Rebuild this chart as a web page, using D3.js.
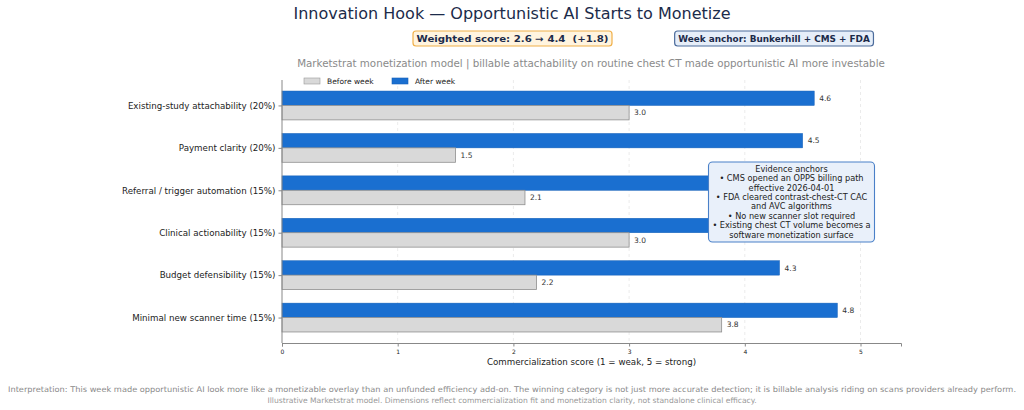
<!DOCTYPE html>
<html><head><meta charset="utf-8">
<script src="https://cdn.jsdelivr.net/npm/d3@7"></script>
<style>body{margin:0;background:#fff}svg{display:block;font-family:"DejaVu Sans",sans-serif}</style>
</head><body><svg id="c" width="1024" height="410"></svg>
<script>
const categories = ["Existing-study attachability (20%)","Payment clarity (20%)","Referral / trigger automation (15%)","Clinical actionability (15%)","Budget defensibility (15%)","Minimal new scanner time (15%)"];
const beforeVals = [3.0,1.5,2.1,3.0,2.2,3.8];
const afterVals = [4.6,4.5,4.2,4.0,4.3,4.8];
const xTicks = [0,1,2,3,4,5];
const seriesNames = ["Before week","After week"];
const evidenceLines = ["Evidence anchors","• CMS opened an OPPS billing path","effective 2026-04-01","• FDA cleared contrast-chest-CT CAC","and AVC algorithms","• No new scanner slot required","• Existing chest CT volume becomes a","software monetization surface"];

const svg = d3.select("#c");
const L=282, R=901, T=80, B=343;
const x = d3.scaleLinear().domain([0,5.35]).range([L,R]);
const y = d3.scaleLinear().domain([-0.6,5.6]).range([T,B]);
const bh = y(0.34)-y(0);
const cBlue="#1a6fd0", cGray="#d9d9d9";

// grid
svg.append("g").selectAll("line").data(xTicks.slice(1)).join("line")
 .attr("x1",d=>x(d)).attr("x2",d=>x(d)).attr("y1",T).attr("y2",B)
 .attr("stroke","#e6e6e6").attr("stroke-width",0.8).attr("stroke-dasharray","3,3");

const g = svg.append("g");
categories.forEach((c,i)=>{
  g.append("rect").attr("x",x(0)).attr("y",y(i)-bh).attr("width",x(afterVals[i])-x(0)).attr("height",bh)
   .attr("fill",cBlue).attr("stroke","#1560b8").attr("stroke-width",0.5);
  g.append("rect").attr("x",x(0)).attr("y",y(i)).attr("width",x(beforeVals[i])-x(0)).attr("height",bh)
   .attr("fill",cGray).attr("stroke","#8f8f8f").attr("stroke-width",0.8);
  g.append("text").attr("x",x(afterVals[i])+5).attr("y",y(i)-bh/2).attr("dy","0.35em")
   .attr("font-size",7.5).attr("fill","#333").text(afterVals[i].toFixed(1));
  g.append("text").attr("x",x(beforeVals[i])+5).attr("y",y(i)+bh/2).attr("dy","0.35em")
   .attr("font-size",7.5).attr("fill","#333").text(beforeVals[i].toFixed(1));
});

// axes
const yAxis = svg.append("g").attr("transform",`translate(${L},0)`)
 .call(d3.axisLeft(y).tickValues(d3.range(categories.length)).tickFormat(i=>categories[i]).tickSize(3.5).tickPadding(3));
yAxis.select(".domain").attr("d",`M0,${T}V${B}`);
yAxis.selectAll("text").attr("font-size",8.7).attr("fill","#222").attr("font-family","DejaVu Sans");
const xAxis = svg.append("g").attr("transform",`translate(0,${B})`)
 .call(d3.axisBottom(x).tickValues(xTicks).tickFormat(d3.format("d")).tickSize(3.5).tickPadding(3));
xAxis.selectAll("text").attr("font-size",6).attr("fill","#222").attr("font-family","DejaVu Sans");
svg.selectAll(".domain").attr("stroke","#888");
svg.selectAll(".tick line").attr("stroke","#888");

svg.append("text").attr("x",(L+R)/2).attr("y",365).attr("text-anchor","middle").attr("font-size",8.7).attr("fill","#222")
 .text("Commercialization score (1 = weak, 5 = strong)");

// legend
const lg = svg.append("g");
[[cGray,"#999",seriesNames[0],304],[cBlue,"#1560b8",seriesNames[1],392]].forEach(([f,s,t,lx])=>{
  lg.append("rect").attr("x",lx).attr("y",78).attr("width",16).attr("height",6).attr("fill",f).attr("stroke",s).attr("stroke-width",0.6);
  lg.append("text").attr("x",lx+23).attr("y",81).attr("dy","0.35em").attr("font-size",7.5).attr("fill","#222").text(t);
});

// titles
svg.append("text").attr("x",512).attr("y",19).attr("text-anchor","middle").attr("font-size",16).attr("fill","#1c2b4a")
 .text("Innovation Hook — Opportunistic AI Starts to Monetize");
function badge(cx,txt,fill,stroke,fs,tl){
  const t = svg.append("text").attr("x",cx).attr("y",38.5).attr("dy","0.35em").attr("text-anchor","middle")
   .attr("font-size",fs).attr("font-weight","bold").attr("fill","#1c2b4a").style("white-space","pre").text(txt);
  if (tl) t.attr("textLength",tl).attr("lengthAdjust","spacingAndGlyphs");
  const bb = t.node().getBBox();
  svg.insert("rect",()=>t.node()).attr("x",bb.x-3.5).attr("y",31).attr("width",bb.width+7).attr("height",15).attr("rx",3)
   .attr("fill",fill).attr("stroke",stroke).attr("stroke-width",1.2);
}
badge(512.5,"Weighted score: 2.6 → 4.4  (+1.8)","#fff4df","#f0b04a",9.4,192);
badge(774,"Week anchor: Bunkerhill + CMS + FDA","#e6eef9","#4c6c9c",8.9,null);
svg.append("text").attr("x",591).attr("y",63).attr("dy","0.35em").attr("text-anchor","middle").attr("font-size",10.3).attr("fill","#8a8a8a")
 .text("Marketstrat monetization model | billable attachability on routine chest CT made opportunistic AI more investable");

// evidence box
svg.append("rect").attr("x",708.5).attr("y",162).attr("width",166).attr("height",80).attr("rx",4)
 .attr("fill","#e9f0fa").attr("stroke","#4a80c8").attr("stroke-width",1.1);
svg.append("g").selectAll("text").data(evidenceLines).join("text")
 .attr("x",791.5).attr("y",(d,i)=>169+i*9.4).attr("dy","0.35em").attr("text-anchor","middle")
 .attr("font-size",8.2).attr("fill","#222").text(d=>d);

// footer
svg.append("text").attr("x",512).attr("y",389).attr("dy","0.35em").attr("text-anchor","middle").attr("font-size",7.8).attr("fill","#8a8a8a")
 .attr("textLength",1008).attr("lengthAdjust","spacingAndGlyphs")
 .text("Interpretation: This week made opportunistic AI look more like a monetizable overlay than an unfunded efficiency add-on. The winning category is not just more accurate detection; it is billable analysis riding on scans providers already perform.");
svg.append("text").attr("x",512).attr("y",400).attr("dy","0.35em").attr("text-anchor","middle").attr("font-size",7.6).attr("fill","#999")
 .text("Illustrative Marketstrat model. Dimensions reflect commercialization fit and monetization clarity, not standalone clinical efficacy.");
</script></body></html>
